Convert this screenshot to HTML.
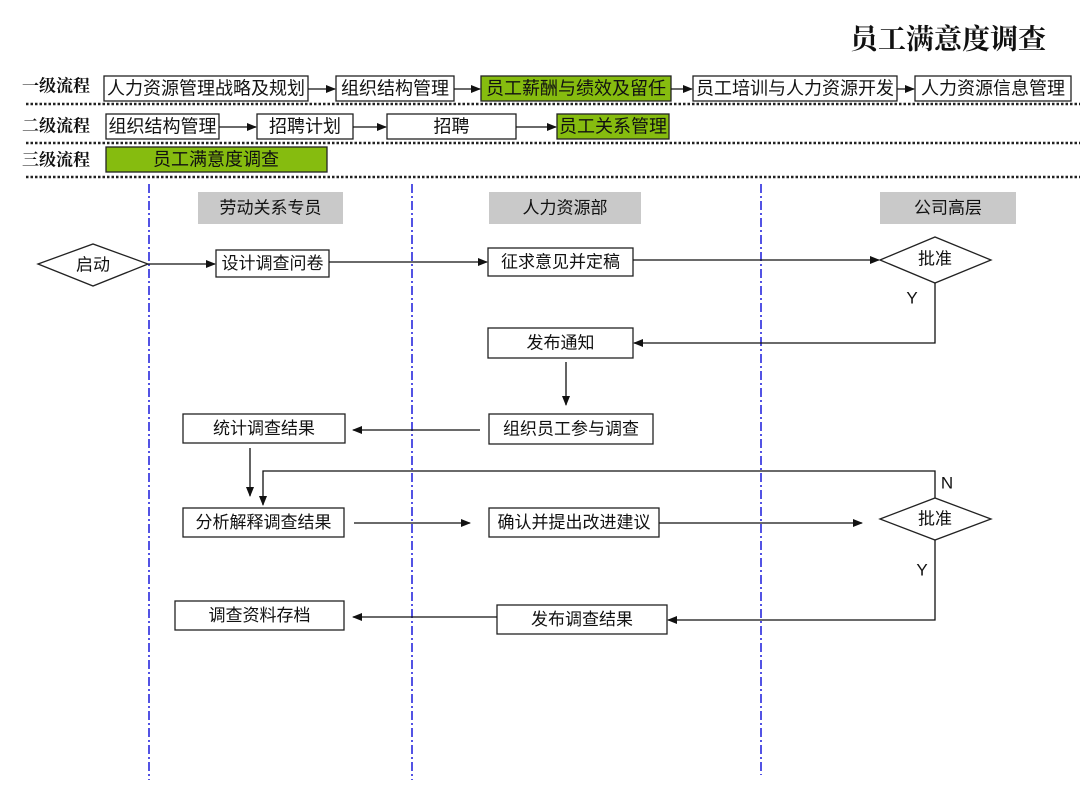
<!DOCTYPE html>
<html><head><meta charset="utf-8"><style>
html,body{margin:0;padding:0;background:#fff}
svg{display:block}
text{font-family:"Liberation Sans","Noto Sans CJK SC",sans-serif;fill:#111}
.t{font-size:17px;text-anchor:middle;dominant-baseline:central}
.s{font-size:18px;text-anchor:middle;dominant-baseline:central}
.lbl{font-size:17px;font-weight:bold;font-family:"Liberation Serif","Noto Serif CJK SC",serif}
.b{fill:#fff;stroke:#222;stroke-width:1.3}
.g{fill:#86bc0f;stroke:#222;stroke-width:1.3}
.gr{fill:#c9c9c9}
.ln{stroke:#111;stroke-width:1.3;fill:none}
.dot{stroke:#222;stroke-width:2.5;stroke-dasharray:2.5 2;}
.lane{stroke:#1a1adc;stroke-width:1.5;stroke-dasharray:9 3 2 3}
</style></head><body>
<svg width="1080" height="810" viewBox="0 0 1080 810" xmlns="http://www.w3.org/2000/svg">
<defs><marker id="a" markerWidth="10" markerHeight="10" refX="9" refY="5" orient="auto" markerUnits="userSpaceOnUse"><path d="M0,1 L10,5 L0,9 z" fill="#111"/></marker></defs>
<text x="1046" y="40" style="font-size:28px;font-weight:bold;text-anchor:end;dominant-baseline:central;font-family:'Liberation Serif','Noto Serif CJK SC',serif">员工满意度调查</text>

<text class="lbl" x="22" y="86" dominant-baseline="central">一级流程</text>
<text class="lbl" x="22" y="126" dominant-baseline="central">二级流程</text>
<text class="lbl" x="22" y="160" dominant-baseline="central">三级流程</text>

<rect class="b" x="104" y="76" width="204" height="25"/><text class="s" x="206" y="88.5">人力资源管理战略及规划</text>
<rect class="b" x="336" y="76" width="118" height="25"/><text class="s" x="395" y="88.5">组织结构管理</text>
<rect class="g" x="481" y="76" width="190" height="25"/><text class="s" x="576" y="88.5">员工薪酬与绩效及留任</text>
<rect class="b" x="693" y="76" width="204" height="25"/><text class="s" x="795" y="88.5">员工培训与人力资源开发</text>
<rect class="b" x="915" y="76" width="156" height="25"/><text class="s" x="993" y="88.5">人力资源信息管理</text>
<line class="ln" x1="308" y1="89" x2="335" y2="89" marker-end="url(#a)"/>
<line class="ln" x1="454" y1="89" x2="480" y2="89" marker-end="url(#a)"/>
<line class="ln" x1="671" y1="89" x2="692" y2="89" marker-end="url(#a)"/>
<line class="ln" x1="897" y1="89" x2="914" y2="89" marker-end="url(#a)"/>
<line class="dot" x1="26" y1="104" x2="1080" y2="104"/>

<rect class="b" x="106" y="114" width="113" height="25"/><text class="s" x="162.5" y="126.5">组织结构管理</text>
<rect class="b" x="257" y="114" width="96" height="25"/><text class="s" x="305" y="126.5">招聘计划</text>
<rect class="b" x="387" y="114" width="129" height="25"/><text class="s" x="451.5" y="126.5">招聘</text>
<rect class="g" x="557" y="114" width="112" height="25"/><text class="s" x="613" y="126.5">员工关系管理</text>
<line class="ln" x1="219" y1="127" x2="256" y2="127" marker-end="url(#a)"/>
<line class="ln" x1="353" y1="127" x2="386" y2="127" marker-end="url(#a)"/>
<line class="ln" x1="516" y1="127" x2="556" y2="127" marker-end="url(#a)"/>
<line class="dot" x1="26" y1="143" x2="1080" y2="143"/>

<rect class="g" x="106" y="147" width="221" height="25"/><text class="s" x="216" y="159.5">员工满意度调查</text>
<line class="dot" x1="26" y1="177" x2="1080" y2="177"/>

<line class="lane" x1="149" y1="184" x2="149" y2="780"/>
<line class="lane" x1="412" y1="184" x2="412" y2="780"/>
<line class="lane" x1="761" y1="184" x2="761" y2="775"/>

<rect class="gr" x="198" y="192" width="145" height="32"/><text class="t" x="270.5" y="208">劳动关系专员</text>
<rect class="gr" x="489" y="192" width="152" height="32"/><text class="t" x="565" y="208">人力资源部</text>
<rect class="gr" x="880" y="192" width="136" height="32"/><text class="t" x="948" y="208">公司高层</text>

<polygon class="b" points="38,264 93,244 148,264 93,286"/><text class="t" x="93" y="265">启动</text>
<line class="ln" x1="148" y1="264" x2="215" y2="264" marker-end="url(#a)"/>
<rect class="b" x="216" y="250" width="113" height="27"/><text class="t" x="272.5" y="263.5">设计调查问卷</text>
<line class="ln" x1="329" y1="262" x2="487" y2="262" marker-end="url(#a)"/>
<rect class="b" x="488" y="248" width="145" height="28"/><text class="t" x="560.5" y="262">征求意见并定稿</text>
<line class="ln" x1="633" y1="260" x2="879" y2="260" marker-end="url(#a)"/>
<polygon class="b" points="880,260 935,237 991,260 935,283"/><text class="t" x="935" y="259">批准</text>
<text x="912" y="298" style="font-size:17px;text-anchor:middle;dominant-baseline:central">Y</text>
<polyline class="ln" points="935,283 935,343 634,343" marker-end="url(#a)"/>
<rect class="b" x="488" y="328" width="145" height="30"/><text class="t" x="560.5" y="343">发布通知</text>
<line class="ln" x1="566" y1="362" x2="566" y2="405" marker-end="url(#a)"/>
<rect class="b" x="489" y="414" width="164" height="30"/><text class="t" x="571" y="429">组织员工参与调查</text>
<line class="ln" x1="480" y1="430" x2="353" y2="430" marker-end="url(#a)"/>
<rect class="b" x="183" y="414" width="162" height="29"/><text class="t" x="264" y="428.5">统计调查结果</text>
<line class="ln" x1="250" y1="448" x2="250" y2="496" marker-end="url(#a)"/>
<polyline class="ln" points="935,498 935,471 263,471 263,505" marker-end="url(#a)"/>
<text x="947" y="483" style="font-size:17px;text-anchor:middle;dominant-baseline:central">N</text>
<rect class="b" x="183" y="508" width="161" height="29"/><text class="t" x="263.5" y="522.5">分析解释调查结果</text>
<line class="ln" x1="354" y1="523" x2="470" y2="523" marker-end="url(#a)"/>
<rect class="b" x="489" y="508" width="170" height="29"/><text class="t" x="574" y="522.5">确认并提出改进建议</text>
<line class="ln" x1="659" y1="523" x2="862" y2="523" marker-end="url(#a)"/>
<polygon class="b" points="880,519 935,498 991,519 935,540"/><text class="t" x="935" y="519">批准</text>
<text x="922" y="570" style="font-size:17px;text-anchor:middle;dominant-baseline:central">Y</text>
<polyline class="ln" points="935,540 935,620 668,620" marker-end="url(#a)"/>
<rect class="b" x="497" y="605" width="170" height="29"/><text class="t" x="582" y="619.5">发布调查结果</text>
<line class="ln" x1="497" y1="617" x2="353" y2="617" marker-end="url(#a)"/>
<rect class="b" x="175" y="601" width="169" height="29"/><text class="t" x="259.5" y="615.5">调查资料存档</text>
</svg>
</body></html>
